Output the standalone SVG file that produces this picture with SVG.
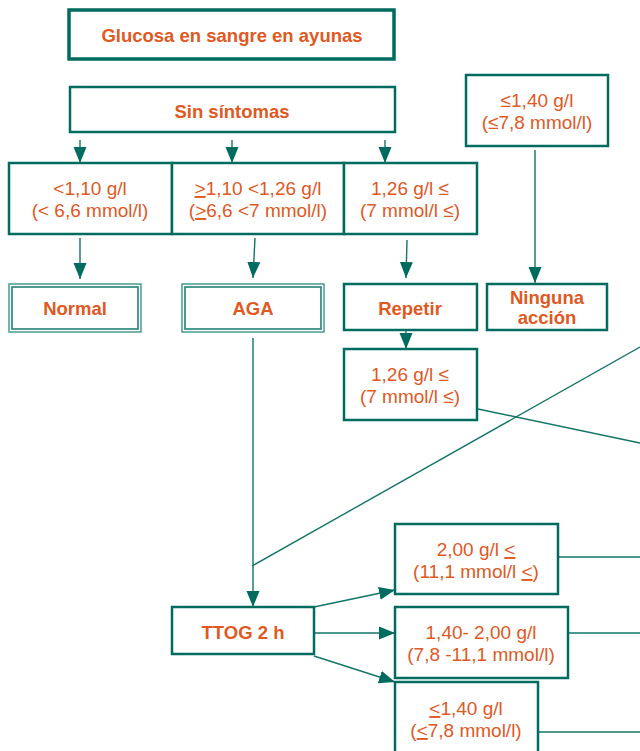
<svg xmlns="http://www.w3.org/2000/svg" width="640" height="751" viewBox="0 0 640 751">
  <style>
    .box { fill: #ffffff; stroke: #006b5f; stroke-width: 2.5; }
    .box-main { fill: #ffffff; stroke: #006b5f; stroke-width: 3.5; }
    .dbl-out { fill: #ffffff; stroke: #2e8a80; stroke-width: 1.3; }
    .dbl-in { fill: none; stroke: #2e8a80; stroke-width: 1.7; }
    .t { font-family: "Liberation Sans", Arial, sans-serif; font-size: 19px; fill: #e0591f; text-anchor: middle; }
    .b { font-family: "Liberation Sans", Arial, sans-serif; font-size: 18.5px; font-weight: bold; fill: #e0591f; text-anchor: middle; }
    .u { text-decoration: underline; }
    .conn line { stroke: #137468; stroke-width: 1.4; fill: none; }
  </style>
  <defs>
    <marker id="arrow" markerUnits="userSpaceOnUse" markerWidth="16" markerHeight="14" refX="16" refY="6.5" orient="auto" viewBox="0 0 16 13">
      <path d="M0,0 L16,6.5 L0,13 Z" fill="#006b5f"/>
    </marker>
  </defs>

  <rect width="640" height="751" fill="#ffffff"/>

  <!-- connectors -->
  <g id="connectors" class="conn">
    <line x1="80" y1="140" x2="80" y2="163" marker-end="url(#arrow)"/>
    <line x1="232" y1="140" x2="232" y2="163" marker-end="url(#arrow)"/>
    <line x1="385" y1="140" x2="385" y2="163" marker-end="url(#arrow)"/>
    <line x1="80" y1="238" x2="80" y2="279" marker-end="url(#arrow)"/>
    <line x1="255" y1="238" x2="253" y2="278" marker-end="url(#arrow)"/>
    <line x1="407" y1="240" x2="406" y2="278" marker-end="url(#arrow)"/>
    <line x1="535" y1="150" x2="535" y2="283" marker-end="url(#arrow)"/>
    <line x1="406" y1="330" x2="406" y2="349" marker-end="url(#arrow)"/>
    <line x1="253" y1="338" x2="253" y2="607" marker-end="url(#arrow)"/>
    <line x1="314" y1="607" x2="395" y2="590" marker-end="url(#arrow)"/>
    <line x1="314" y1="633" x2="395" y2="633" marker-end="url(#arrow)"/>
    <line x1="314" y1="656" x2="395" y2="682" marker-end="url(#arrow)"/>
    <line x1="478" y1="409" x2="640" y2="443"/>
    <line x1="640" y1="347" x2="252" y2="566"/>
    <line x1="558" y1="557" x2="640" y2="557"/>
    <line x1="568" y1="633" x2="640" y2="633"/>
    <line x1="538" y1="732" x2="640" y2="732"/>
  </g>

  <!-- nodes -->
  <g id="ayunas">
    <rect class="box-main" x="69" y="10" width="325" height="49"/>
    <text class="b" x="232" y="42">Glucosa en sangre en ayunas</text>
  </g>

  <g id="sin-sintomas">
    <rect class="box" x="70" y="87" width="325" height="45"/>
    <text class="b" x="232" y="118">Sin síntomas</text>
  </g>

  <g id="menor-110">
    <rect class="box" x="9" y="163" width="163" height="71"/>
    <text class="t" x="90" y="195">&lt;1,10 g/l</text>
    <text class="t" x="90" y="217">(&lt; 6,6 mmol/l)</text>
  </g>

  <g id="entre-110-126">
    <rect class="box" x="172" y="163" width="172" height="71"/>
    <text class="t" x="258" y="195"><tspan class="u">&gt;</tspan>1,10 &lt;1,26 g/l</text>
    <text class="t" x="258" y="217">(<tspan class="u">&gt;</tspan>6,6 &lt;7 mmol/l)</text>
  </g>

  <g id="mayor-126">
    <rect class="box" x="344" y="163" width="133" height="71"/>
    <text class="t" x="410" y="195">1,26 g/l ≤</text>
    <text class="t" x="410" y="217">(7 mmol/l ≤)</text>
  </g>

  <g id="menor-140-sup">
    <rect class="box" x="466" y="75" width="142" height="71"/>
    <text class="t" x="537" y="107">≤1,40 g/l</text>
    <text class="t" x="537" y="129">(≤7,8 mmol/l)</text>
  </g>

  <g id="normal">
    <rect class="dbl-out" x="9" y="284" width="132" height="48"/>
    <rect class="dbl-in" x="12" y="287" width="126" height="42"/>
    <text class="b" x="75" y="315">Normal</text>
  </g>

  <g id="aga">
    <rect class="dbl-out" x="182" y="284" width="142" height="48"/>
    <rect class="dbl-in" x="185" y="287" width="136" height="42"/>
    <text class="b" x="253" y="315">AGA</text>
  </g>

  <g id="repetir">
    <rect class="box" x="344" y="284" width="133" height="46"/>
    <text class="b" x="410" y="315">Repetir</text>
  </g>

  <g id="ninguna-accion">
    <rect class="box" x="487" y="284" width="120" height="46"/>
    <text class="b" x="547" y="304">Ninguna</text>
    <text class="b" x="547" y="324">acción</text>
  </g>

  <g id="repeticion-126">
    <rect class="box" x="344" y="349" width="133" height="71"/>
    <text class="t" x="410" y="381">1,26 g/l ≤</text>
    <text class="t" x="410" y="403">(7 mmol/l ≤)</text>
  </g>

  <g id="ttog">
    <rect class="box" x="172" y="607" width="142" height="47"/>
    <text class="b" x="243" y="639">TTOG 2 h</text>
  </g>

  <g id="mayor-200">
    <rect class="box" x="395" y="524" width="163" height="70"/>
    <text class="t" x="476" y="556">2,00 g/l <tspan class="u">&lt;</tspan></text>
    <text class="t" x="476" y="578">(11,1 mmol/l <tspan class="u">&lt;</tspan>)</text>
  </g>

  <g id="entre-140-200">
    <rect class="box" x="395" y="607" width="173" height="71"/>
    <text class="t" x="481" y="639">1,40- 2,00 g/l</text>
    <text class="t" x="481" y="661">(7,8 -11,1 mmol/l)</text>
  </g>

  <g id="menor-140-inf">
    <rect class="box" x="395" y="682" width="143" height="73"/>
    <text class="t" x="466" y="715"><tspan class="u">&lt;</tspan>1,40 g/l</text>
    <text class="t" x="466" y="737">(<tspan class="u">&lt;</tspan>7,8 mmol/l)</text>
  </g>
</svg>
